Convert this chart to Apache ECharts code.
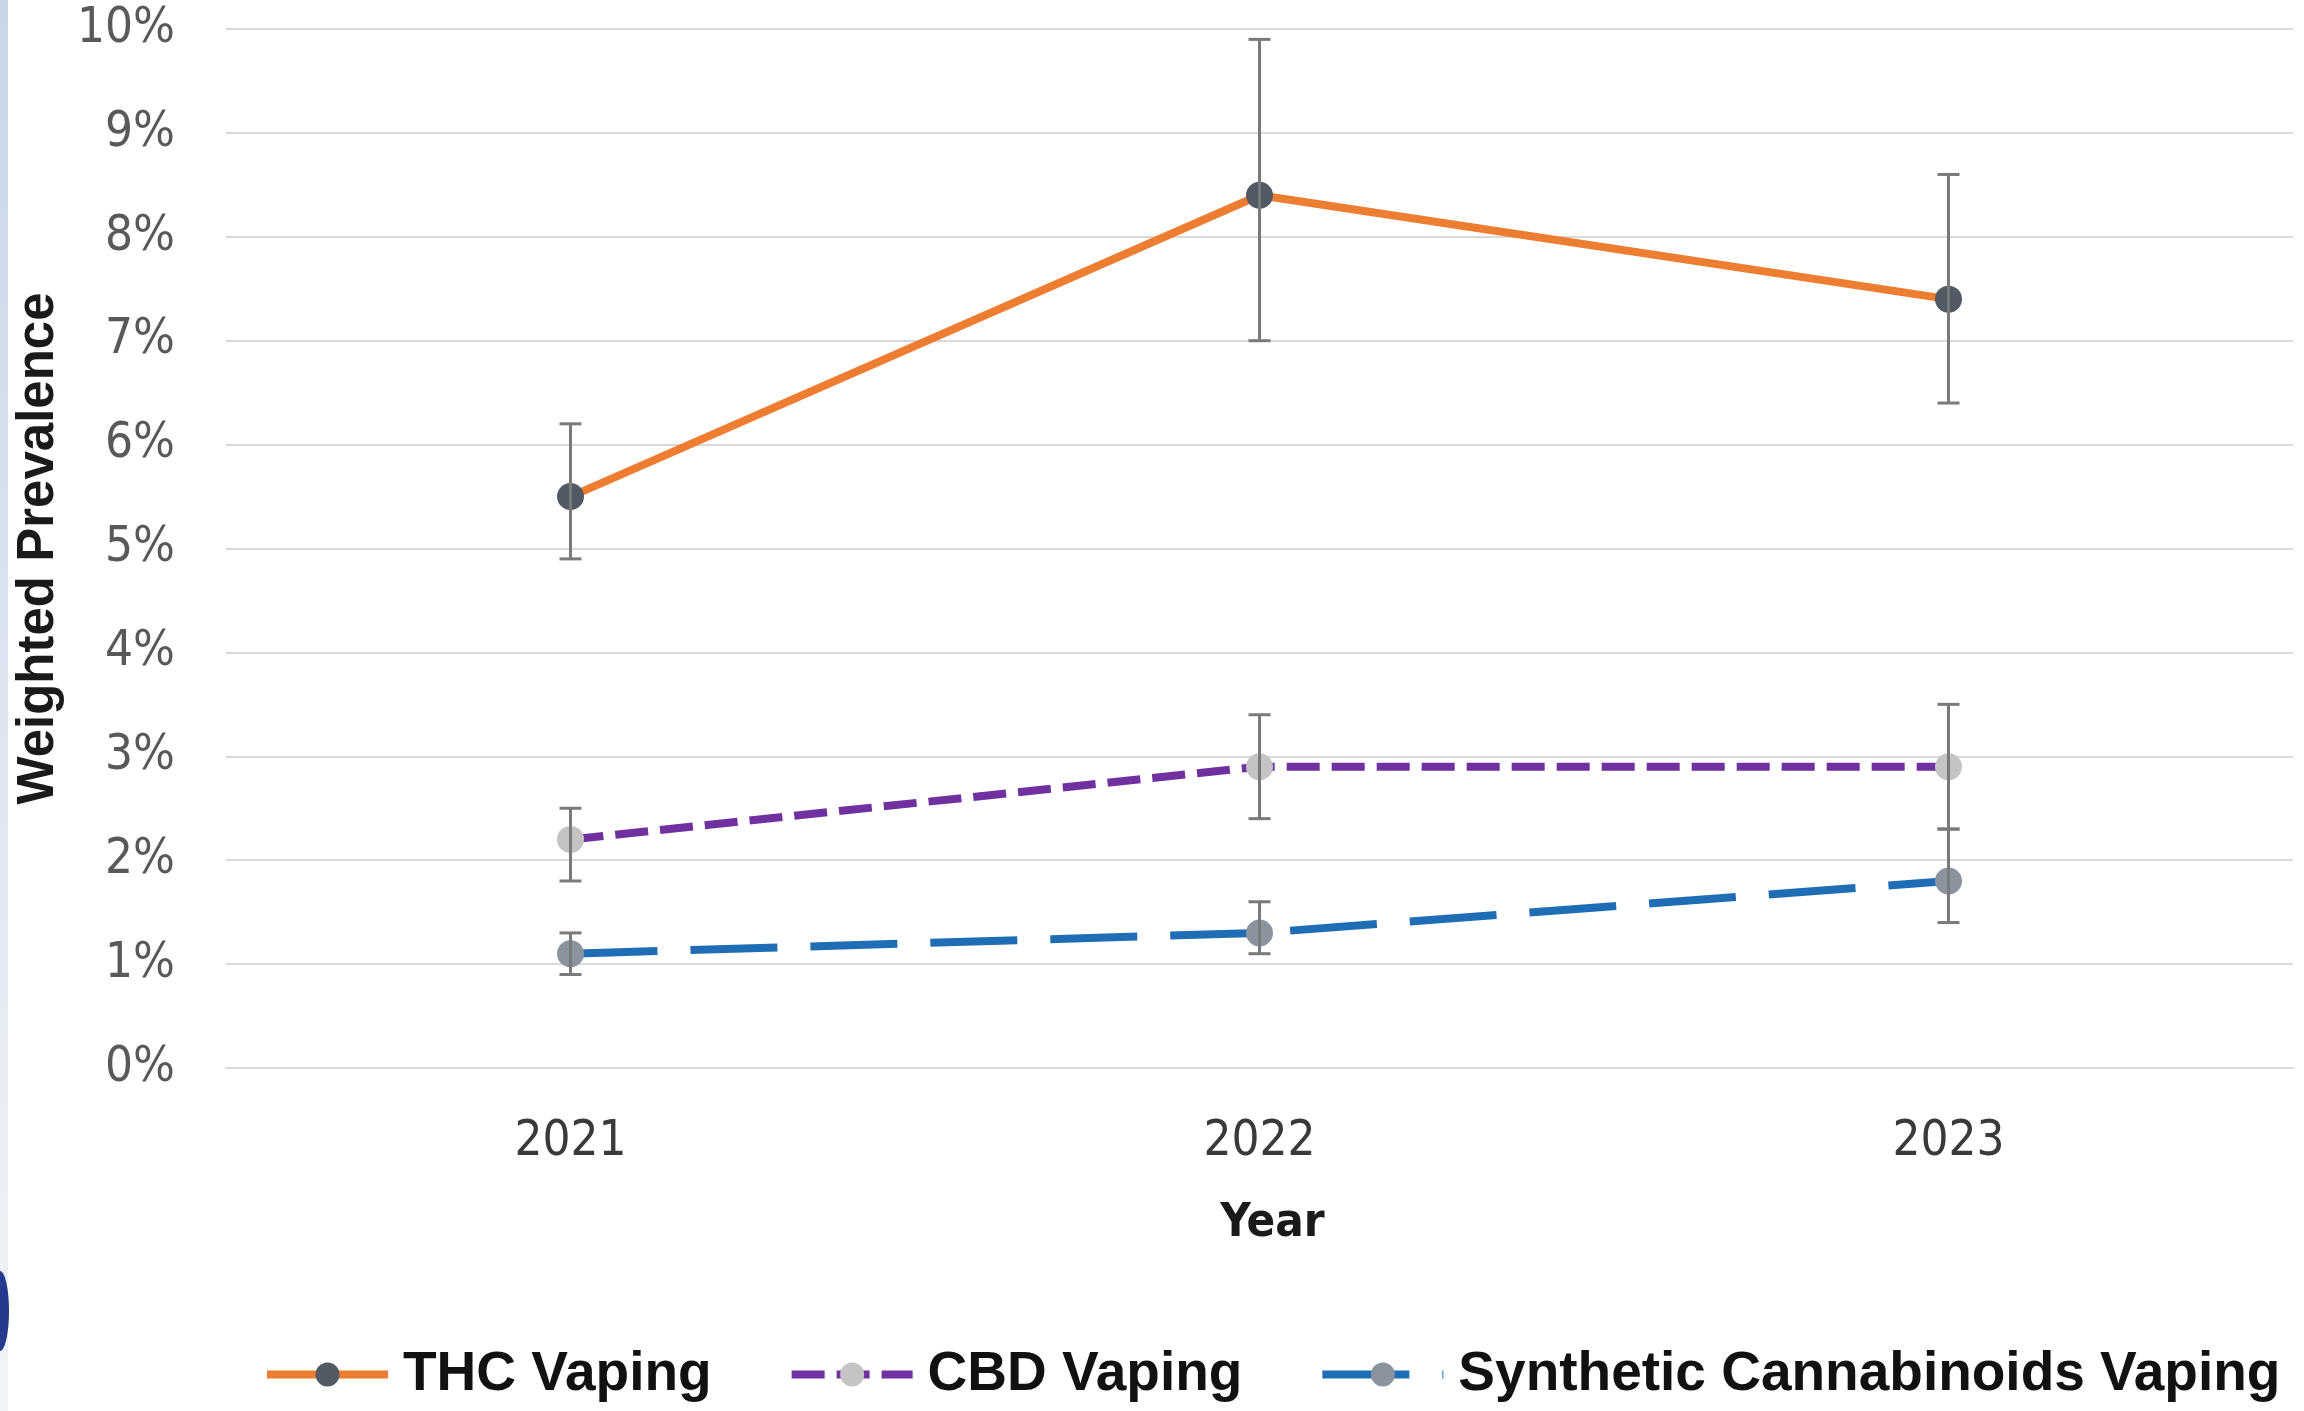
<!DOCTYPE html>
<html>
<head>
<meta charset="utf-8">
<title>Weighted Prevalence of Cannabis Vaping, 2021–2023</title>
<script src="https://cdn.jsdelivr.net/npm/echarts@6/dist/echarts.min.js"></script>
<style>
  html, body { margin: 0; padding: 0; background: #ffffff; }
  #chart { width: 2304px; height: 1411px; }
</style>
</head>
<body>
<div id="chart"></div>
<script>
// Survey years on the category axis
const years = ['2021', '2022', '2023'];

// Weighted prevalence (%) with confidence interval bounds
const thcValues = [5.5, 8.4, 7.4];
const thcLow    = [4.9, 7.0, 6.4];
const thcHigh   = [6.2, 9.9, 8.6];

const cbdValues = [2.2, 2.9, 2.9];
const cbdLow    = [1.8, 2.4, 2.3];
const cbdHigh   = [2.5, 3.4, 3.5];

const scValues  = [1.1, 1.3, 1.8];
const scLow     = [0.9, 1.1, 1.4];
const scHigh    = [1.3, 1.6, 2.3];

// Value-axis ticks (percent)
const yTicks = [0, 1, 2, 3, 4, 5, 6, 7, 8, 9, 10];

const NARROW = "'Liberation Sans Narrow', 'DejaVu Sans Condensed', sans-serif";
const BOLD = "'Liberation Sans', Arial, sans-serif";

const seriesNames = ['THC Vaping', 'CBD Vaping', 'Synthetic Cannabinoids Vaping'];

// Vertical whisker with caps at both ends
function renderErrorBar(params, api) {
  const i = api.value(0);
  const lo = api.coord([i, api.value(1)]);
  const hi = api.coord([i, api.value(2)]);
  const half = 11;
  const style = { stroke: '#7a7a7a', lineWidth: 3 };
  return {
    type: 'group',
    children: [
      { type: 'line', shape: { x1: lo[0], y1: lo[1], x2: hi[0], y2: hi[1] }, style: style },
      { type: 'line', shape: { x1: hi[0] - half, y1: hi[1], x2: hi[0] + half, y2: hi[1] }, style: style },
      { type: 'line', shape: { x1: lo[0] - half, y1: lo[1], x2: lo[0] + half, y2: lo[1] }, style: style }
    ]
  };
}

function errorData(low, high) {
  return years.map((y, i) => [i, low[i], high[i]]);
}

function errorSeries(name, low, high) {
  return {
    name: name + ' CI',
    type: 'custom',
    renderItem: renderErrorBar,
    data: errorData(low, high),
    encode: { x: 0, y: [1, 2] },
    z: 5,
    silent: true
  };
}

const chart = echarts.init(document.getElementById('chart'), null, { renderer: 'canvas' });

chart.setOption({
  backgroundColor: '#ffffff',
  animation: false,
  graphic: [
    {
      type: 'rect',
      shape: { x: 0, y: 0, width: 8, height: 1411 },
      style: {
        fill: new echarts.graphic.LinearGradient(0, 0, 0, 1, [
          { offset: 0, color: '#c8d6e8' },
          { offset: 1, color: '#f1f4f8' }
        ])
      },
      silent: true
    },
    {
      type: 'ellipse',
      shape: { cx: 0, cy: 1311, rx: 9, ry: 40 },
      style: { fill: '#253a8c' },
      silent: true
    }
  ],
  grid: { left: 226, right: 11, top: 29, bottom: 343, containLabel: false },
  legend: {
    data: seriesNames,
    left: 258,
    top: 1342,
    itemWidth: 121,
    itemHeight: 30,
    itemGap: 76,
    lineStyle: { width: 8 },
    textStyle: {
      fontFamily: BOLD,
      fontWeight: 'bold',
      fontSize: 55,
      color: '#111111',
      padding: [0, 0, 0, 10]
    }
  },
  xAxis: {
    type: 'category',
    data: years,
    boundaryGap: true,
    name: 'Year',
    nameLocation: 'middle',
    nameGap: 132,
    nameTextStyle: {
      fontFamily: NARROW,
      fontWeight: 'bold',
      fontSize: 47,
      color: '#1a1a1a',
      padding: [0, 0, 0, 26]
    },
    axisLine: { show: true, lineStyle: { color: '#d9d9d9', width: 2 } },
    axisTick: { show: false },
    axisLabel: {
      margin: 50,
      fontFamily: NARROW,
      fontSize: 49,
      color: '#3a3a3a'
    },
    splitLine: { show: false }
  },
  yAxis: {
    type: 'value',
    min: yTicks[0],
    max: yTicks[yTicks.length - 1],
    interval: 1,
    name: 'Weighted Prevalence',
    nameLocation: 'middle',
    nameRotate: 90,
    nameGap: 162,
    nameTextStyle: {
      fontFamily: BOLD,
      fontWeight: 'bold',
      fontSize: 51,
      color: '#1a1a1a'
    },
    axisLine: { show: false },
    axisTick: { show: false },
    axisLabel: {
      margin: 51,
      fontFamily: NARROW,
      fontSize: 49,
      color: '#595959',
      formatter: v => v + '%'
    },
    splitLine: { show: true, lineStyle: { color: '#d9d9d9', width: 2 } }
  },
  series: [
    {
      name: seriesNames[0],
      type: 'line',
      data: thcValues,
      z: 3,
      symbol: 'circle',
      symbolSize: 27,
      lineStyle: { color: '#ED7D31', width: 8 },
      itemStyle: { color: '#525a63', borderWidth: 0 }
    },
    {
      name: seriesNames[1],
      type: 'line',
      data: cbdValues,
      z: 3,
      symbol: 'circle',
      symbolSize: 27,
      lineStyle: { color: '#7030A0', width: 8, type: [33, 12], cap: 'butt' },
      itemStyle: { color: '#c4c4c4', borderWidth: 0 }
    },
    {
      name: seriesNames[2],
      type: 'line',
      data: scValues,
      z: 3,
      symbol: 'circle',
      symbolSize: 27,
      lineStyle: { color: '#1F6DB5', width: 8, type: [87, 33], cap: 'butt' },
      itemStyle: { color: '#8a939e', borderWidth: 0 }
    },
    errorSeries(seriesNames[0], thcLow, thcHigh),
    errorSeries(seriesNames[1], cbdLow, cbdHigh),
    errorSeries(seriesNames[2], scLow, scHigh)
  ]
});
</script>
</body>
</html>
